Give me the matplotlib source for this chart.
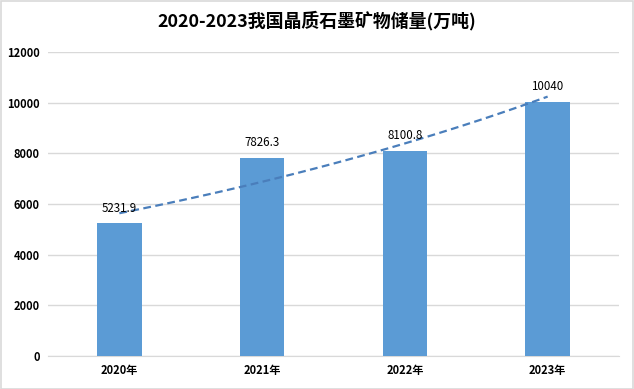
import numpy as np
import matplotlib
matplotlib.use("Agg")
import matplotlib.pyplot as plt
from matplotlib.patches import Rectangle

plt.rcParams['font.family'] = ['Noto Sans CJK SC', 'DejaVu Sans']

categories = ["2020年", "2021年", "2022年", "2023年"]
values = [5231.9, 7826.3, 8100.8, 10040]
labels = ["5231.9", "7826.3", "8100.8", "10040"]
yticks = [0, 2000, 4000, 6000, 8000, 10000, 12000]
title = "2020-2023我国晶质石墨矿物储量(万吨)"

W, H = 634, 389
fig = plt.figure(figsize=(W / 100, H / 100), dpi=100)
ax = fig.add_axes([48 / W, 1 - 356 / H, (619 - 48) / W, (356 - 52) / H])

x = np.arange(len(categories))
ax.bar(x, values, width=0.31, color="#5B9BD5", zorder=3)

# exponential trendline fitted to the data
coef = np.polyfit(x, np.log(values), 1)
xs = np.linspace(x[0], x[-1], 100)
ax.plot(xs, np.exp(np.polyval(coef, xs)), linestyle=(0, (3.5, 2)), color="#4A7EBB",
        linewidth=1.6, zorder=4)

for xi, v, lab in zip(x, values, labels):
    ax.annotate(lab, (xi, v), xytext=(0, 6), textcoords="offset points",
                ha="center", va="bottom", fontsize=8.3, color="#000000", zorder=5)

ax.set_xlim(-0.5, len(categories) - 0.5)
ax.set_ylim(0, 12000)
ax.set_yticks(yticks)
ax.set_yticklabels([str(t) for t in yticks], fontsize=8, fontweight="bold")
ax.set_xticks(x)
ax.set_xticklabels(categories, fontsize=8, fontweight="bold")
ax.tick_params(axis="both", length=0, pad=6, colors="#000000")
ax.grid(axis="y", color="#D9D9D9", linewidth=1, zorder=0)
for s in ["top", "right", "left"]:
    ax.spines[s].set_visible(False)
ax.spines["bottom"].set_color("#D9D9D9")

fig.text(0.5, 1 - 21 / H, title, ha="center", va="center", fontsize=12.9, fontweight="bold")

fig.patches.append(Rectangle((0.5 / W, 0.5 / H), 1 - 1.5 / W, 1 - 1.5 / H, transform=fig.transFigure,
                             fill=False, edgecolor="#D9D9D9", linewidth=1.2))

fig.savefig("out.png", dpi=100)
